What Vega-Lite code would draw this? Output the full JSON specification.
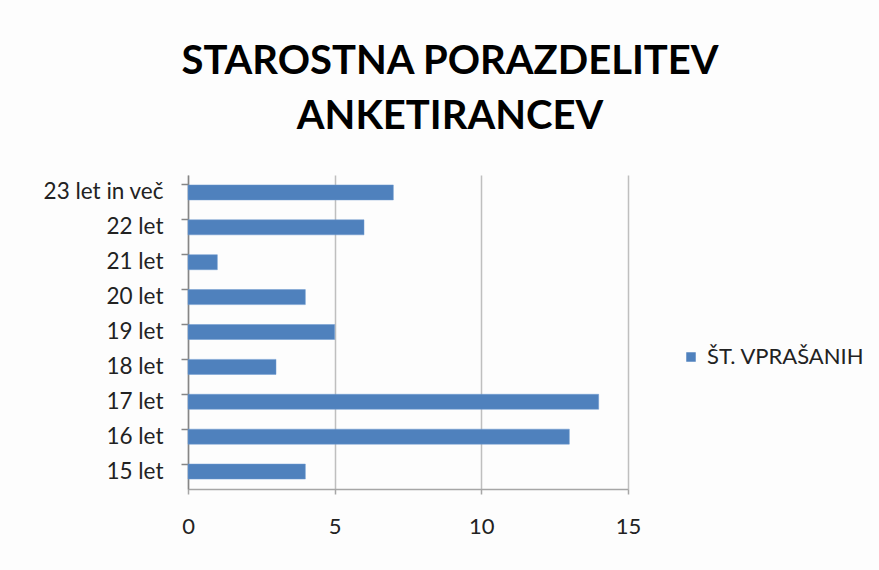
{
  "$schema": "https://vega.github.io/schema/vega-lite/v6.json",
  "autosize": {"type": "none"},
  "width": 440,
  "height": 314,
  "padding": {"left": 188, "top": 175, "right": 251, "bottom": 81},
  "background": "#fdfdfd",
  "title": {
    "text": ["STAROSTNA PORAZDELITEV", "ANKETIRANCEV"],
    "font": "Lato",
    "fontSize": 40,
    "fontWeight": "bold",
    "color": "#000000",
    "anchor": "middle",
    "frame": "group",
    "dx": 42,
    "offset": 38,
    "lineHeight": 55
  },
  "data": {
    "values": [
      {"age": "23 let in več", "count": 7},
      {"age": "22 let", "count": 6},
      {"age": "21 let", "count": 1},
      {"age": "20 let", "count": 4},
      {"age": "19 let", "count": 5},
      {"age": "18 let", "count": 3},
      {"age": "17 let", "count": 14},
      {"age": "16 let", "count": 13},
      {"age": "15 let", "count": 4}
    ]
  },
  "mark": {"type": "bar", "stroke": "#6f9ad0", "strokeWidth": 0.5},
  "encoding": {
    "y": {
      "field": "age",
      "type": "nominal",
      "sort": null,
      "scale": {"paddingInner": 0.57, "paddingOuter": 0.285},
      "axis": {
        "title": null,
        "bandPosition": 0,
        "labelFont": "Lato",
        "labelFontSize": 22.5,
        "labelColor": "#222222",
        "labelPadding": 18,
        "tickSize": 7,
        "tickColor": "#868686",
        "domainColor": "#868686",
        "domainWidth": 1.5,
        "tickWidth": 1.5,
        "grid": false
      }
    },
    "x": {
      "field": "count",
      "type": "quantitative",
      "scale": {"domain": [0, 15], "nice": false},
      "axis": {
        "title": null,
        "values": [0, 5, 10, 15],
        "labelFlush": false,
        "labelFont": "Lato",
        "labelFontSize": 22,
        "labelColor": "#222222",
        "labelPadding": 22,
        "tickSize": 5,
        "tickColor": "#a6a6a6",
        "domainColor": "#a6a6a6",
        "domainWidth": 1.5,
        "tickWidth": 1.5,
        "grid": true,
        "gridColor": "#bfbfbf",
        "gridWidth": 1.5
      }
    },
    "color": {
      "datum": "ŠT. VPRAŠANIH",
      "type": "nominal",
      "scale": {"range": ["#4f81bd"]},
      "legend": {
        "title": null,
        "orient": "none",
        "legendX": 492,
        "legendY": 171,
        "symbolType": "square",
        "symbolSize": 90,
        "symbolStrokeWidth": 0,
        "labelFont": "Lato",
        "labelFontSize": 22,
        "labelLimit": 0,
        "labelColor": "#222222",
        "labelOffset": 5
      }
    }
  },
  "config": {"view": {"stroke": null}}
}
